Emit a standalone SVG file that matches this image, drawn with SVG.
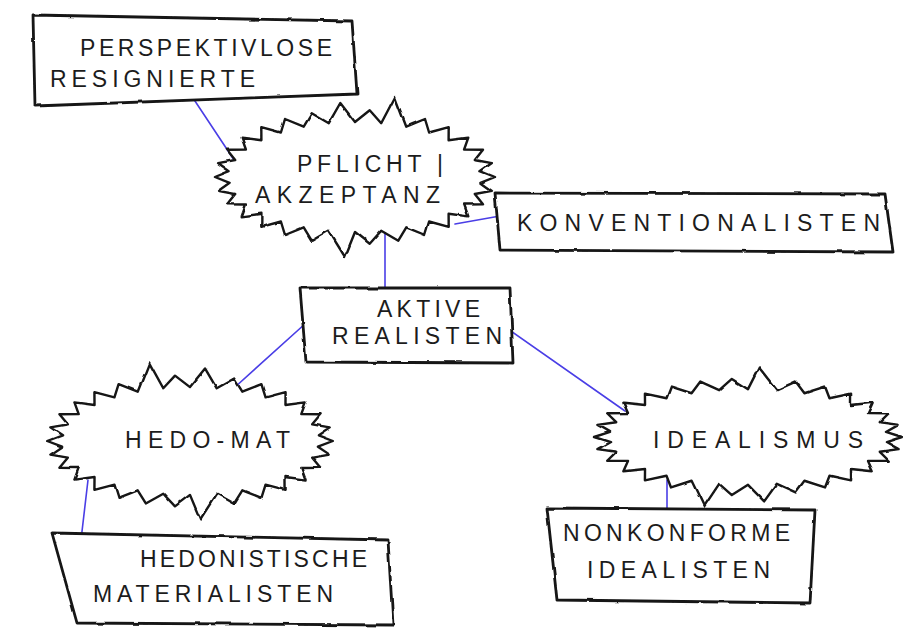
<svg xmlns="http://www.w3.org/2000/svg" width="903" height="628" viewBox="0 0 903 628">
  <style>
    .link { stroke: #4a3ee6; stroke-width: 1.6; fill: none; stroke-linecap: round; }
    .box { fill: #ffffff; stroke: #141414; stroke-width: 2.8; stroke-linejoin: round; }
    .cloud { fill: #ffffff; stroke: #141414; stroke-width: 2.4; stroke-linejoin: round; vector-effect: non-scaling-stroke; }
    .lbl { font-family: "Liberation Sans", "DejaVu Sans", sans-serif; font-size: 23px; fill: #1c1c1c; }
  </style>
  <defs>
    <!-- pencil wobble for hand-drawn outlines -->
    <filter id="rough" x="-5%" y="-5%" width="110%" height="110%">
      <feTurbulence type="fractalNoise" baseFrequency="0.06" numOctaves="2" seed="3" result="noise"/>
      <feDisplacementMap in="SourceGraphic" in2="noise" scale="2.5" xChannelSelector="R" yChannelSelector="G"/>
    </filter>
    <!-- spiky burst outline around an ellipse, centred on the origin -->
    <path id="burst" class="cloud" d="M140,0 L125.4,5.8 L136.9,13.9 L119.8,17 L128,27.3 L109.1,27.5 L113.3,39.4 L93.6,36.8 L93.7,49.8 L74.1,44.5 L70,58 L51.3,50.3 L43.3,63.7 L26.2,53.8 L14.7,66.7 L0,55 L-10,80 L-26.2,53.8 L-43.3,63.7 L-51.3,50.3 L-70,58 L-74.1,44.5 L-93.7,49.8 L-93.6,36.8 L-113.3,39.4 L-109.1,27.5 L-128,27.3 L-119.8,17 L-136.9,13.9 L-125.4,5.8 L-140,0 L-125.4,-5.8 L-136.9,-13.9 L-119.8,-17 L-128,-27.3 L-109.1,-27.5 L-113.3,-39.4 L-93.6,-36.8 L-93.7,-49.8 L-74.1,-44.5 L-70,-58 L-51.3,-50.3 L-43.3,-63.7 L-26.2,-53.8 L-14.7,-74 L0,-55 L14.7,-66.7 L26.2,-53.8 L40,-80 L51.3,-50.3 L70,-58 L74.1,-44.5 L93.7,-49.8 L93.6,-36.8 L113.3,-39.4 L109.1,-27.5 L128,-27.3 L119.8,-17 L136.9,-13.9 L125.4,-5.8 Z"/>
  </defs>

  <rect width="903" height="628" fill="#ffffff"/>

  <g id="connectors">
    <line class="link" x1="191" y1="95" x2="242" y2="172"/>
    <line class="link" x1="455" y1="224" x2="500" y2="216"/>
    <line class="link" x1="385" y1="230" x2="385" y2="295"/>
    <line class="link" x1="306" y1="323" x2="234" y2="388"/>
    <line class="link" x1="505" y1="327" x2="625" y2="411"/>
    <line class="link" x1="88" y1="480" x2="81" y2="540"/>
    <line class="link" x1="667" y1="480" x2="667" y2="515"/>
  </g>

  <g id="perspektivlose-resignierte">
    <polygon class="box" filter="url(#rough)" points="33,15 352,21 357,94 35,106"/>
    <text class="lbl" x="80" y="56" textLength="252" lengthAdjust="spacing">PERSPEKTIVLOSE</text>
    <text class="lbl" x="50" y="87" textLength="205" lengthAdjust="spacing">RESIGNIERTE</text>
  </g>

  <g id="pflicht-akzeptanz">
    <use href="#burst" transform="translate(355,177)" filter="url(#rough)"/>
    <text class="lbl" x="297" y="172" textLength="146" lengthAdjust="spacing">PFLICHT |</text>
    <text class="lbl" x="255" y="203" textLength="185" lengthAdjust="spacing">AKZEPTANZ</text>
  </g>

  <g id="konventionalisten">
    <polygon class="box" filter="url(#rough)" points="495,193 885,194 893,252 500,250"/>
    <text class="lbl" x="517" y="231" textLength="363" lengthAdjust="spacing">KONVENTIONALISTEN</text>
  </g>

  <g id="aktive-realisten">
    <polygon class="box" filter="url(#rough)" points="300,288 510,288 513,363 306,362"/>
    <text class="lbl" x="377" y="317" textLength="103" lengthAdjust="spacing">AKTIVE</text>
    <text class="lbl" x="332" y="344" textLength="170" lengthAdjust="spacing">REALISTEN</text>
  </g>

  <g id="hedonistische-materialisten">
    <polygon class="box" filter="url(#rough)" points="52,533 388,540 393,625 77,623"/>
    <text class="lbl" x="140" y="567" textLength="227" lengthAdjust="spacing">HEDONISTISCHE</text>
    <text class="lbl" x="93" y="602" textLength="240" lengthAdjust="spacing">MATERIALISTEN</text>
  </g>

  <g id="nonkonforme-idealisten">
    <polygon class="box" filter="url(#rough)" points="547,508 815,510 810,603 557,600"/>
    <text class="lbl" x="563" y="541" textLength="227" lengthAdjust="spacing">NONKONFORME</text>
    <text class="lbl" x="587" y="578" textLength="183" lengthAdjust="spacing">IDEALISTEN</text>
  </g>

  <g id="hedo-mat">
    <use href="#burst" transform="translate(190,441) scale(-1.02,0.98)" filter="url(#rough)"/>
    <text class="lbl" x="125" y="448" textLength="165" lengthAdjust="spacing">HEDO-MAT</text>
  </g>

  <g id="idealismus">
    <use href="#burst" transform="translate(748,437) scale(-1.1,-0.87)" filter="url(#rough)"/>
    <text class="lbl" x="653" y="448" textLength="210" lengthAdjust="spacing">IDEALISMUS</text>
  </g>
</svg>
